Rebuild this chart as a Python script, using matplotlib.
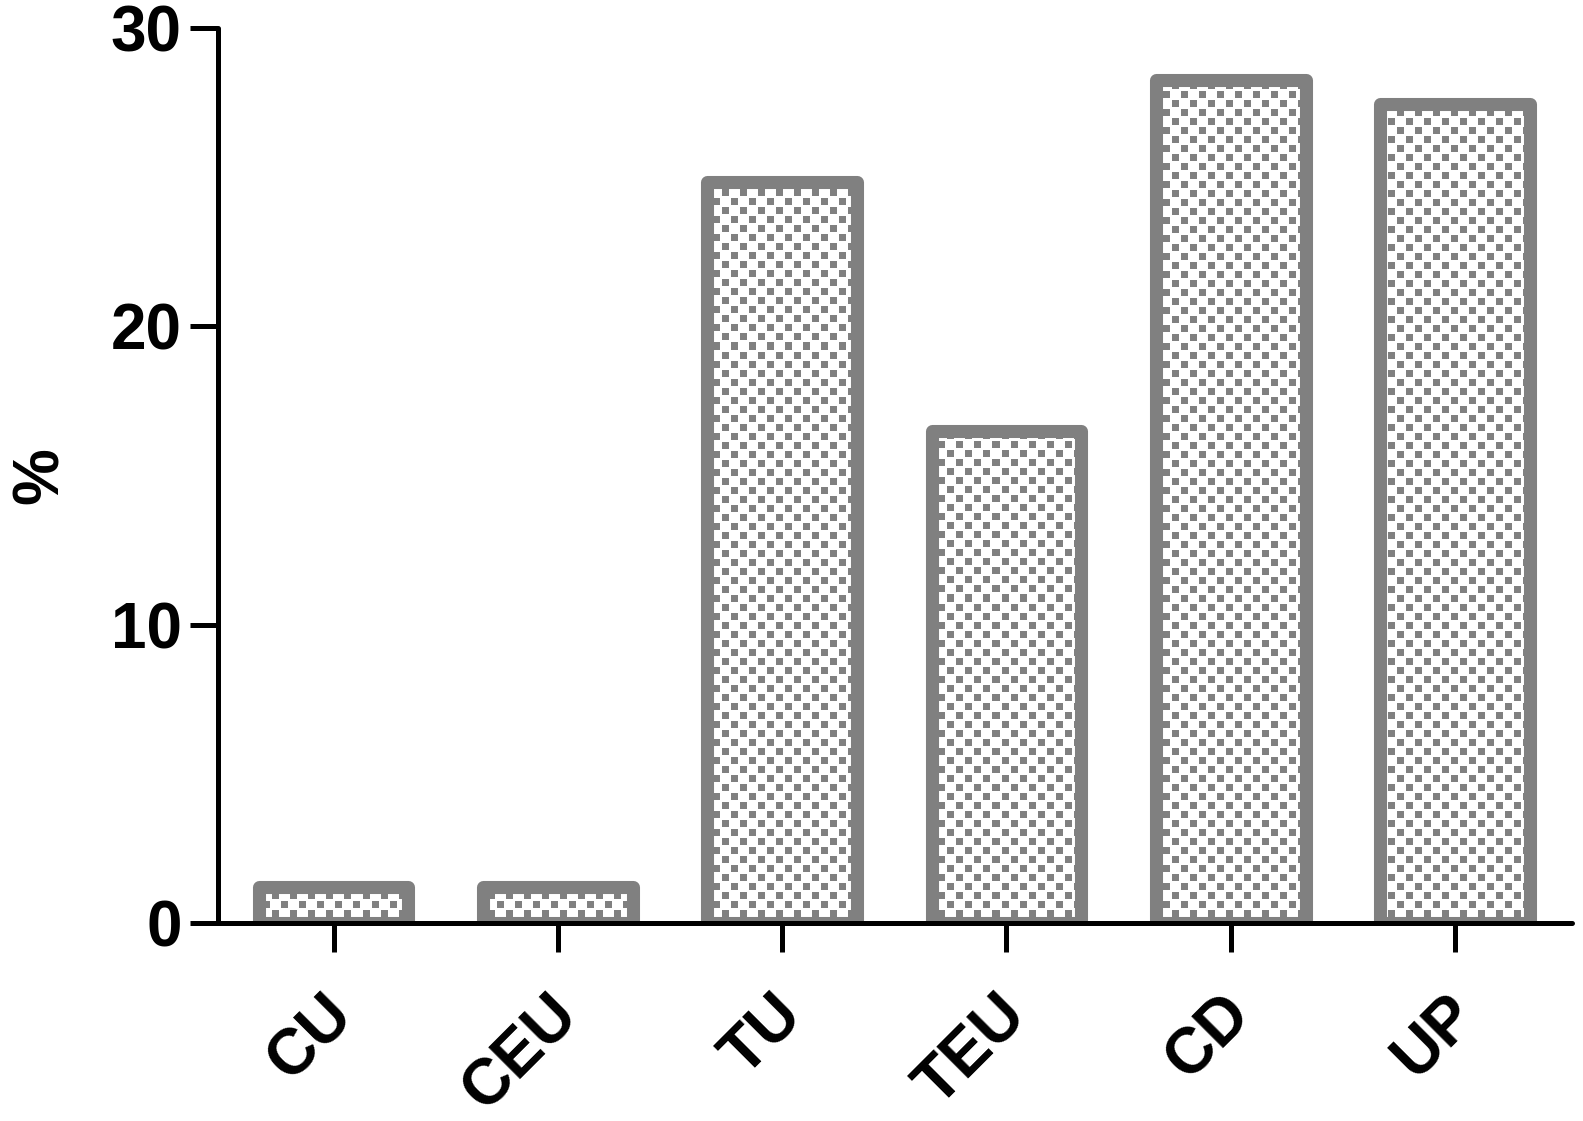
import numpy as np
import matplotlib
matplotlib.use("Agg")
import matplotlib.pyplot as plt
import matplotlib.transforms as mtransforms

categories = ["CU", "CEU", "TU", "TEU", "CD", "UP"]
values = [1.2, 1.2, 24.85, 16.5, 28.25, 27.45]
yticks = [0, 10, 20, 30]
ylabel = "%"

plt.rcParams['font.family'] = ['Liberation Sans', 'DejaVu Sans']
plt.rcParams['font.weight'] = 'bold'

W, H, DPI = 1583, 1121, 100
fig = plt.figure(figsize=(W / DPI, H / DPI), dpi=DPI)
left, right = 218 / W, 1572 / W
bottom, top = 1 - 923 / H, 1 - 28 / H
ax = fig.add_axes([left, bottom, right - left, top - bottom])

x = np.arange(len(categories))
gray = "#808080"
bars = ax.bar(x, values, width=0.668, facecolor="none", edgecolor=gray,
              linewidth=9.4, joinstyle="round", zorder=3)

ax.set_xlim(-0.515, len(categories) - 1 + 0.521)
ax.set_ylim(0, 30)

# checkered texture inside bars
pw = int(round((right - left) * W))
ph = int(round((top - bottom) * H))
rr, cc = np.mgrid[0:ph, 0:pw]
cell = 9
on = (((rr // cell) + (cc // cell)) % 2 == 0) & ((rr % cell) < 7) & ((cc % cell) < 7)
img = np.ones((ph, pw, 3))
img[on] = np.array([0x80, 0x80, 0x80]) / 255.0
xl, yl = ax.get_xlim(), ax.get_ylim()
for b in bars:
    im = ax.imshow(img, extent=[xl[0], xl[1], yl[0], yl[1]], aspect="auto",
                   interpolation="nearest", zorder=2, origin="upper")
    im.set_clip_path(b)
ax.set_xlim(xl)
ax.set_ylim(yl)

for s in ["top", "right"]:
    ax.spines[s].set_visible(False)
for s in ["left", "bottom"]:
    ax.spines[s].set_linewidth(3.6)
    ax.spines[s].set_color("black")
    ax.spines[s].set_zorder(5)
    ax.spines[s].set_capstyle("round")

ax.set_yticks(yticks)
ax.set_yticklabels([str(t) for t in yticks], fontsize=46, fontweight="bold")
ax.tick_params(axis="y", length=20, width=3.6, pad=6)
ax.set_xticks(x)
ax.set_xticklabels(categories, fontsize=46, fontweight="bold", rotation=45,
                   ha="right", va="center", rotation_mode="anchor")
ax.tick_params(axis="x", length=21, width=3.6, pad=38)
offset = mtransforms.ScaledTranslation(10 / DPI, 0, fig.dpi_scale_trans)
for lab in ax.get_xticklabels():
    lab.set_transform(lab.get_transform() + offset)

ax.set_ylabel(ylabel, fontsize=46, fontweight="bold", va="center")
ax.yaxis.set_label_coords(-0.131, 0.5)

fig.savefig("out.png", dpi=DPI)
